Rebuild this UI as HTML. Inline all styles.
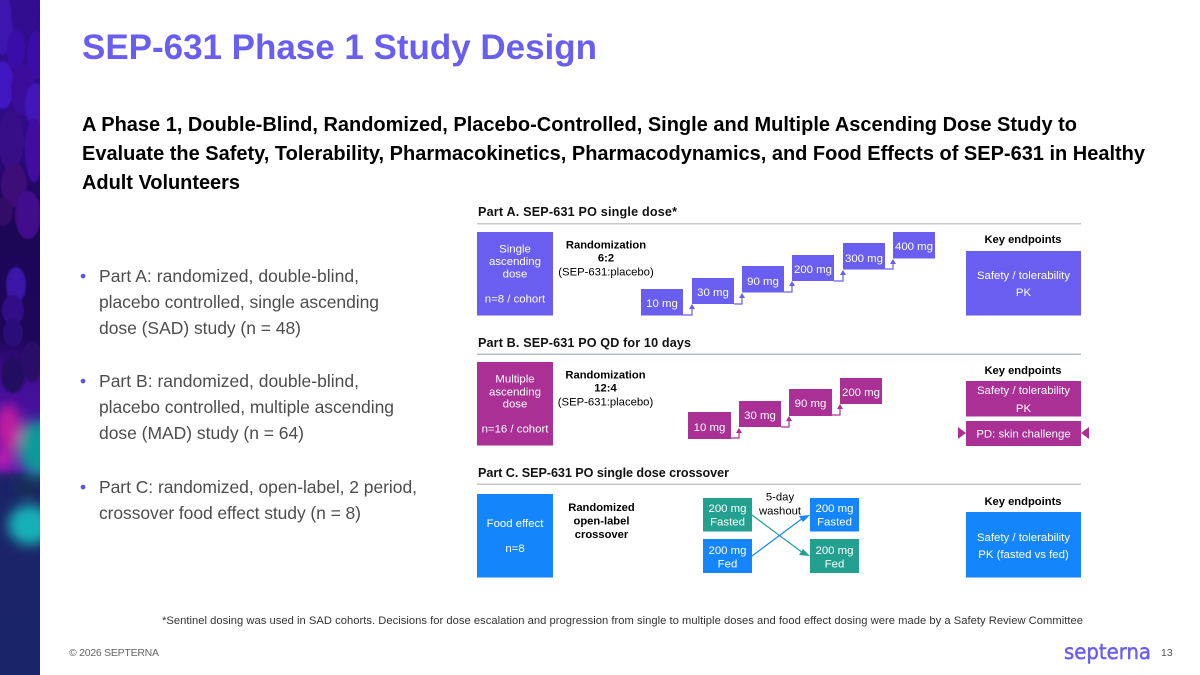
<!DOCTYPE html>
<html><head><meta charset="utf-8"><style>
html,body{margin:0;padding:0;background:#fff;width:1200px;height:675px;overflow:hidden}
svg{display:block;font-family:"Liberation Sans",sans-serif}
.w{fill:#fff;font-size:11.400px;text-anchor:middle}
.k{fill:#000;font-size:11.300px;text-anchor:middle}
.kb{fill:#000;font-size:11.200px;font-weight:bold;text-anchor:middle}
.h{fill:#111;font-size:12.600px;font-weight:bold}
.b{fill:#4d4d4d;font-size:17.500px}
.d{fill:#5f55d8;font-size:17.500px}
.p{fill:#6a5ef0}.m{fill:#aa3096}.c{fill:#1585fb}.t{fill:#23a090}
</style></head><body>
<svg width="1200" height="675" viewBox="0 0 1200 675" xmlns="http://www.w3.org/2000/svg">
<defs>
<linearGradient id="bg" x1="0" y1="0" x2="0" y2="1">
<stop offset="0" stop-color="#320e90"/><stop offset=".2" stop-color="#2e0c84"/><stop offset=".32" stop-color="#1c0656"/><stop offset=".5" stop-color="#1e0658"/><stop offset=".56" stop-color="#420e96"/><stop offset=".695" stop-color="#4e14a8"/><stop offset=".705" stop-color="#1c2468"/><stop offset="1" stop-color="#1a2468"/>
</linearGradient>
<filter id="f1"><feGaussianBlur stdDeviation="1"/></filter>
<filter id="f2"><feGaussianBlur stdDeviation="6"/></filter>
<clipPath id="cl"><rect x="0" y="0" width="40" height="675"/></clipPath>
</defs>
<g clip-path="url(#cl)">
<rect width="40" height="675" fill="url(#bg)"/>
<g filter="url(#f1)">
<ellipse cx="3" cy="25" rx="10" ry="30" fill="#3d12b0"/>
<ellipse cx="24" cy="12" rx="13" ry="24" fill="#300e90"/>
<ellipse cx="16" cy="50" rx="9" ry="20" fill="#3a10a8"/>
<ellipse cx="36" cy="55" rx="9" ry="24" fill="#3a10a8"/>
<ellipse cx="3" cy="85" rx="11" ry="24" fill="#4215c0"/>
<ellipse cx="23" cy="90" rx="12" ry="26" fill="#3a0f9a"/>
<ellipse cx="36" cy="105" rx="11" ry="22" fill="#4214b8"/>
<ellipse cx="11" cy="140" rx="13" ry="30" fill="#380c88"/>
<ellipse cx="34" cy="150" rx="9" ry="32" fill="#400fa0"/>
<ellipse cx="14" cy="185" rx="13" ry="22" fill="#3c0b78"/>
<ellipse cx="28" cy="215" rx="13" ry="24" fill="#43108c"/>
<ellipse cx="2" cy="212" rx="11" ry="14" fill="#300a68"/>
<ellipse cx="16" cy="285" rx="10" ry="18" fill="#3a14a8"/>
<ellipse cx="13" cy="310" rx="11" ry="15" fill="#300e88"/>
<ellipse cx="13" cy="333" rx="10" ry="14" fill="#2a0c78"/>
<ellipse cx="13" cy="375" rx="12" ry="18" fill="#240860"/>
<ellipse cx="32" cy="362" rx="11" ry="20" fill="#2c0a68"/>
</g>
<g filter="url(#f2)">
<ellipse cx="8" cy="428" rx="13" ry="24" fill="#c01aa0"/>
<ellipse cx="2" cy="460" rx="12" ry="10" fill="#b81ab0"/>
<ellipse cx="38" cy="448" rx="20" ry="28" fill="#0f9a9a"/>
<ellipse cx="30" cy="525" rx="22" ry="20" fill="#18b0b8"/>
<ellipse cx="26" cy="488" rx="12" ry="7" fill="#123050"/>
</g>
</g>
<text x="82" y="59" font-size="35" font-weight="bold" fill="#6a5ef0" textLength="515">SEP-631 Phase 1 Study Design</text>
<g font-size="20" font-weight="bold" fill="#000">
<text x="82" y="131" textLength="995">A Phase 1, Double-Blind, Randomized, Placebo-Controlled, Single and Multiple Ascending Dose Study to</text>
<text x="82" y="160" textLength="1063">Evaluate the Safety, Tolerability, Pharmacokinetics, Pharmacodynamics, and Food Effects of SEP-631 in Healthy</text>
<text x="82" y="189" textLength="158">Adult Volunteers</text>
</g>
<text x="80" y="282" class="d">•</text><text x="99" y="282" class="b" textLength="260">Part A: randomized, double-blind,</text>
<text x="99" y="308" class="b" textLength="280">placebo controlled, single ascending</text>
<text x="99" y="334" class="b" textLength="202">dose (SAD) study (n = 48)</text>
<text x="80" y="387" class="d">•</text><text x="99" y="387" class="b" textLength="260">Part B: randomized, double-blind,</text>
<text x="99" y="413" class="b" textLength="295">placebo controlled, multiple ascending</text>
<text x="99" y="439" class="b" textLength="205">dose (MAD) study (n = 64)</text>
<text x="80" y="493" class="d">•</text><text x="99" y="493" class="b" textLength="318">Part C: randomized, open-label, 2 period,</text>
<text x="99" y="519" class="b" textLength="262">crossover food effect study (n = 8)</text>

<!-- Part A -->
<text x="478" y="216" class="h" textLength="199">Part A. SEP-631 PO single dose*</text>
<rect x="477" y="223" width="604" height="1.5" fill="#c8c8cc"/>
<rect x="477" y="232" width="76" height="83.500" class="p"/>
<text x="515" y="252.300" class="w">Single</text><text x="515" y="264.800" class="w">ascending</text><text x="515" y="277.300" class="w">dose</text><text x="515" y="302.300" class="w">n=8 / cohort</text>
<text x="606" y="248.300" class="kb">Randomization</text><text x="606" y="261.300" class="kb">6:2</text><text x="606" y="275.300" class="k">(SEP-631:placebo)</text>
<g fill="none" stroke="#6a5ef0" stroke-width="1.2">
<path d="M683 315H692V308"/><path d="M734 304H742V297"/><path d="M784 292H792V285"/><path d="M834 281H843V274"/><path d="M885 269H893V262"/>
</g>
<g class="p"><path d="M692 304l-3 5h6z"/><path d="M742 293l-3 5h6z"/><path d="M792 281l-3 5h6z"/><path d="M843 270l-3 5h6z"/><path d="M893 259l-3 5h6z"/></g>
<rect x="641" y="289" width="42" height="26.500" class="p"/><text x="662" y="307" class="w">10 mg</text>
<rect x="692" y="278" width="42" height="26" class="p"/><text x="713" y="296" class="w">30 mg</text>
<rect x="742" y="266" width="42" height="26.500" class="p"/><text x="763" y="285" class="w">90 mg</text>
<rect x="792" y="255" width="42" height="26" class="p"/><text x="813" y="273" class="w">200 mg</text>
<rect x="843" y="243" width="42" height="26.500" class="p"/><text x="864" y="262" class="w">300 mg</text>
<rect x="893" y="232" width="42" height="26.500" class="p"/><text x="914" y="250" class="w">400 mg</text>
<text x="1023" y="243" class="kb">Key endpoints</text>
<rect x="966" y="251" width="115" height="64.500" class="p"/>
<text x="1023.500" y="279" class="w">Safety / tolerability</text><text x="1023.500" y="296" class="w">PK</text>

<!-- Part B -->
<text x="478" y="347" class="h" textLength="213">Part B. SEP-631 PO QD for 10 days</text>
<rect x="477" y="353.500" width="604" height="1.5" fill="#b4bcc4"/>
<rect x="477" y="362" width="76" height="83.500" class="m"/>
<text x="515" y="382.300" class="w">Multiple</text><text x="515" y="395.300" class="w">ascending</text><text x="515" y="407.300" class="w">dose</text><text x="515" y="432.300" class="w">n=16 / cohort</text>
<text x="605.500" y="378.300" class="kb">Randomization</text><text x="605.500" y="391.300" class="kb">12:4</text><text x="605.500" y="405.300" class="k">(SEP-631:placebo)</text>
<g fill="none" stroke="#aa3096" stroke-width="1.2">
<path d="M731 438H739V431"/><path d="M781 427H789V420"/><path d="M832 415H840V408"/>
</g>
<g class="m"><path d="M739 428l-3 5h6z"/><path d="M789 416l-3 5h6z"/><path d="M840 404l-3 5h6z"/></g>
<rect x="688" y="412" width="43" height="27" class="m"/><text x="709.500" y="431" class="w">10 mg</text>
<rect x="739" y="401" width="42" height="26" class="m"/><text x="760" y="419" class="w">30 mg</text>
<rect x="789" y="389" width="43" height="27" class="m"/><text x="810.500" y="407" class="w">90 mg</text>
<rect x="840" y="378" width="42" height="26" class="m"/><text x="861" y="396" class="w">200 mg</text>
<text x="1023" y="374" class="kb">Key endpoints</text>
<rect x="966" y="381" width="115" height="35.500" class="m"/>
<text x="1023.500" y="394" class="w">Safety / tolerability</text><text x="1023.500" y="412" class="w">PK</text>
<rect x="966" y="421" width="115" height="25" class="m"/>
<text x="1023.500" y="437.500" class="w">PD: skin challenge</text>
<path d="M958 427l8 6-8 6z" class="m"/><path d="M1089 427l-8 6 8 6z" class="m"/>

<!-- Part C -->
<text x="478" y="477" class="h" textLength="251">Part C. SEP-631 PO single dose crossover</text>
<rect x="477" y="483.500" width="604" height="1.5" fill="#c8c8cc"/>
<rect x="477" y="494" width="76" height="83.500" class="c"/>
<text x="515" y="527" class="w">Food effect</text><text x="515" y="552" class="w">n=8</text>
<text x="601.500" y="511" class="kb">Randomized</text><text x="601.500" y="524.500" class="kb">open-label</text><text x="601.500" y="538" class="kb">crossover</text>
<text x="780" y="500.300" class="k">5-day</text><text x="780" y="514.500" class="k">washout</text>
<rect x="703" y="498" width="49" height="33.500" class="t"/><text x="727.500" y="512" class="w">200 mg</text><text x="727.500" y="525.500" class="w">Fasted</text>
<rect x="703" y="539" width="49" height="34" class="c"/><text x="727.500" y="554" class="w">200 mg</text><text x="727.500" y="567.500" class="w">Fed</text>
<rect x="810" y="498" width="49" height="33.500" class="c"/><text x="834.500" y="512" class="w">200 mg</text><text x="834.500" y="525.500" class="w">Fasted</text>
<rect x="810" y="539" width="49" height="34" class="t"/><text x="834.500" y="554" class="w">200 mg</text><text x="834.500" y="567.500" class="w">Fed</text>
<path d="M752 515L803 553" stroke="#23a090" stroke-width="1.2" fill="none"/>
<path d="M810 556l-11 -1 4 -6z" class="t"/>
<path d="M752 556L803 518" stroke="#1585fb" stroke-width="1.2" fill="none"/>
<path d="M810 515l-11 1 4 6z" class="c"/>
<text x="1023" y="505" class="kb">Key endpoints</text>
<rect x="966" y="512" width="115" height="65.500" class="c"/>
<text x="1023.500" y="541" class="w">Safety / tolerability</text><text x="1023.500" y="558" class="w">PK (fasted vs fed)</text>

<text x="162" y="624" font-size="11.200" fill="#333" textLength="921">*Sentinel dosing was used in SAD cohorts. Decisions for dose escalation and progression from single to multiple doses and food effect dosing were made by a Safety Review Committee</text>
<text x="69" y="656" font-size="10.500" fill="#666" textLength="90">© 2026 SEPTERNA</text>
<text x="1064" y="659" font-family="'DejaVu Sans',sans-serif" font-size="21" fill="#6a5ef0" stroke="#6a5ef0" stroke-width=".5" textLength="87" lengthAdjust="spacingAndGlyphs">septerna</text>
<text x="1161" y="656" font-size="10.500" fill="#555">13</text>
</svg>
</body></html>
